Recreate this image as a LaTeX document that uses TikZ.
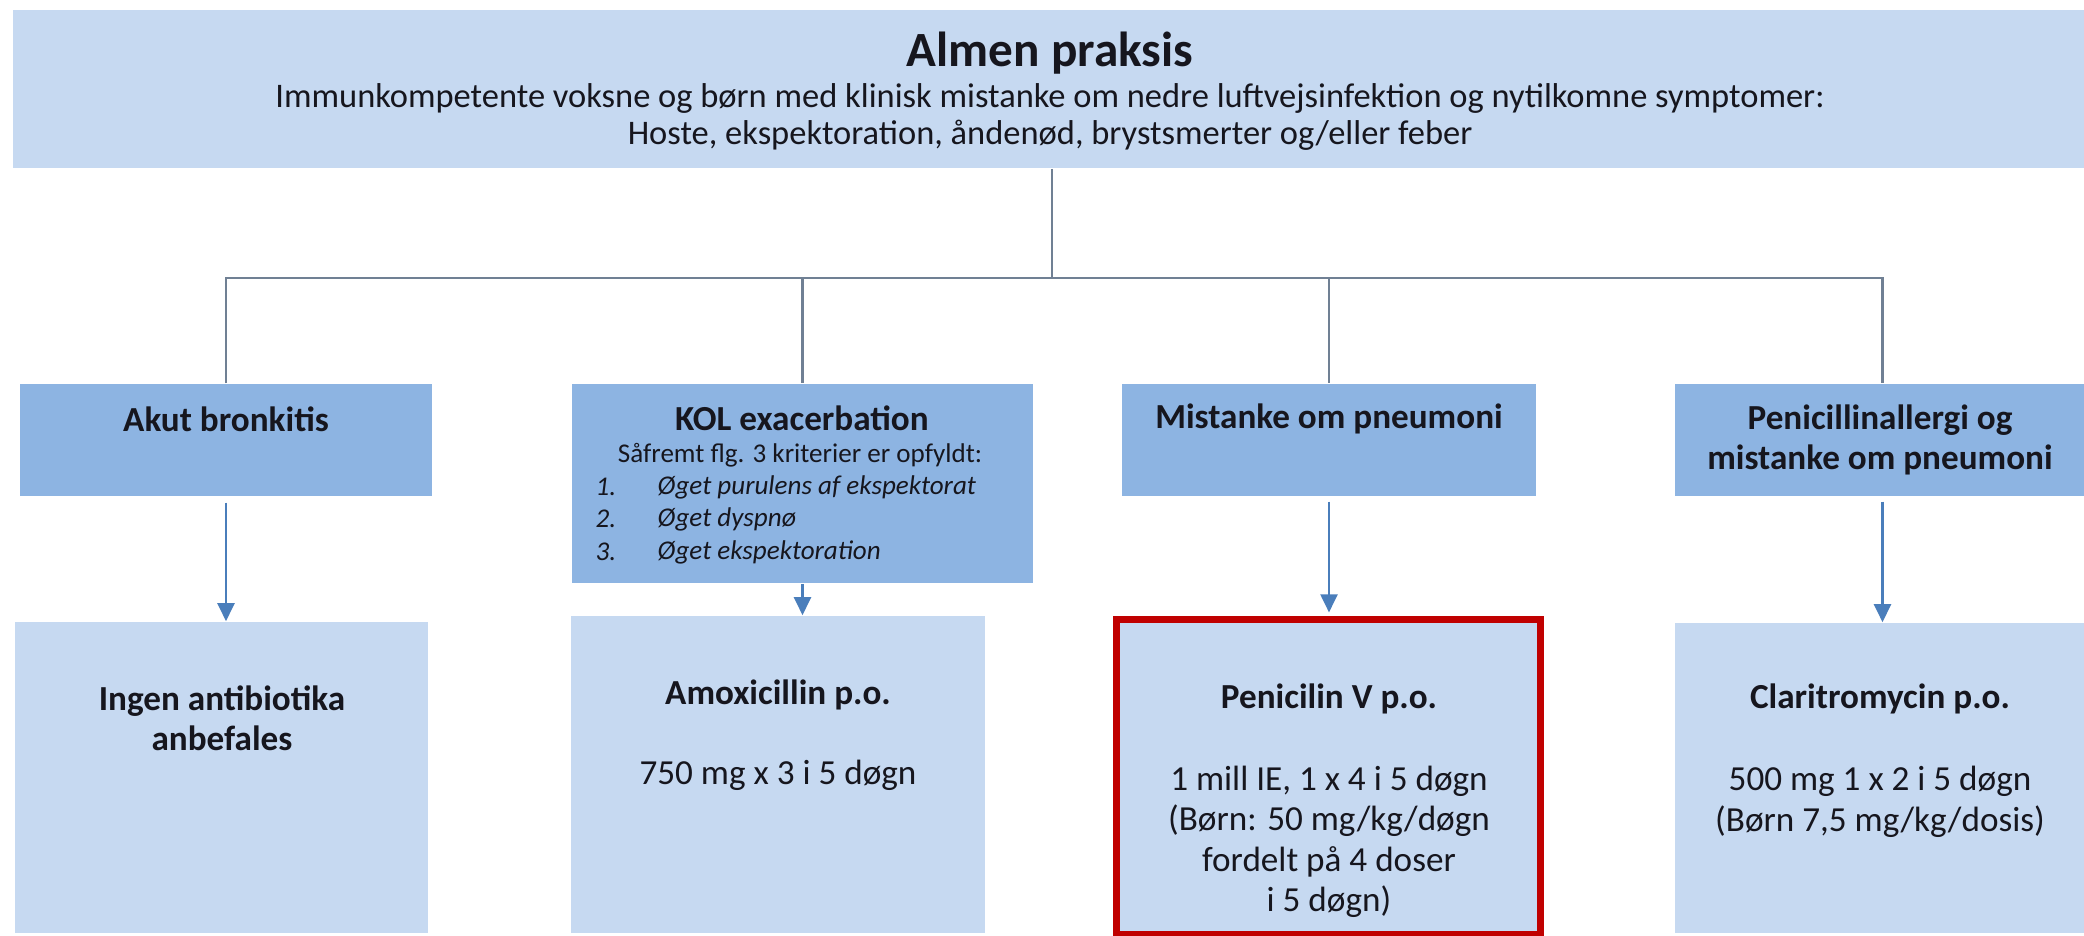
\documentclass[tikz,border=0pt]{standalone}
\usepackage{fontspec}
\setmainfont{Carlito}
\usetikzlibrary{arrows.meta,positioning}
\definecolor{boxlight}{RGB}{198,217,241}
\definecolor{boxmid}{RGB}{141,180,226}
\definecolor{treegray}{RGB}{112,128,148}
\definecolor{arrowblue}{RGB}{74,126,187}
\definecolor{markred}{RGB}{192,0,0}
\definecolor{txtdark}{RGB}{22,22,30}

\begin{document}
\begin{tikzpicture}[x=0.01cm,y=-0.01cm,>=Stealth, every node/.style={text=txtdark,inner sep=0pt}]
    \tikzset{lowbox/.style={fill=boxlight,inner sep=0pt}}
    \tikzset{midbox/.style={fill=boxmid,inner sep=0pt}}
    \tikzset{markbox/.style={lowbox,draw=markred,line width=0.07cm}}
    \tikzset{tree/.style={draw=treegray,line width=0.7pt}}
    \tikzset{arr/.style={draw=arrowblue,line width=0.6pt,-{Triangle[width=1.7mm,length=1.8mm]}}}
    \tikzset{hd/.style={font=\fontsize{10}{11.5}\selectfont\bfseries,align=center}}
    \tikzset{dose/.style={font=\fontsize{10}{11.5}\selectfont,align=center}}
    \tikzset{crit/.style={font=\fontsize{7.7}{9.2}\selectfont\itshape,anchor=west}}

    \useasboundingbox (0,0) rectangle (2084,936);

    % Top box
    \node[lowbox,minimum width=20.76cm,minimum height=1.58cm] (top) at (1052,89) {};
    \node[font=\fontsize{14}{16}\selectfont\bfseries] (toptitle) at (1050,53) {Almen praksis};
    \node[font=\fontsize{9.8}{10.5}\selectfont,align=center] (topsub) at (1050,117)
      {Immunkompetente voksne og børn med klinisk mistanke om nedre luftvejsinfektion og nytilkomne symptomer:\\
       Hoste, ekspektoration, åndenød, brystsmerter og/eller feber};

    % Middle row
    \node[midbox,minimum width=4.12cm,minimum height=1.12cm] (akut) at (226,440) {};
    \node[midbox,minimum width=4.61cm,minimum height=1.99cm] (kol) at (802.5,483.5) {};
    \node[midbox,minimum width=4.14cm,minimum height=1.12cm] (mist) at (1329,440) {};
    \node[midbox,minimum width=4.15cm,minimum height=1.12cm] (pall) at (1882.5,440) {};

    \node[hd] (akuttxt) at (226,419) {Akut bronkitis};
    \node[hd] (koltxt) at (802,418) {KOL exacerbation};
    \node[font=\fontsize{7.7}{9.2}\selectfont] (kolsub) at (800,455) {Såfremt flg. 3 kriterier er opfyldt:};
    \node[crit] (kn1) at (595,487) {1.};
    \node[crit] (kc1) at (657,487) {Øget purulens af ekspektorat};
    \node[crit] (kn2) at (595,519) {2.};
    \node[crit] (kc2) at (657,519) {Øget dyspnø};
    \node[crit] (kn3) at (595,552) {3.};
    \node[crit] (kc3) at (657,552) {Øget ekspektoration};
    \node[hd] (misttxt) at (1329,419) {Mistanke om pneumoni};
    \node[hd] (palltxt) at (1880,440) {Penicillinallergi og\\mistanke om pneumoni};

    % Bottom row
    \node[lowbox,minimum width=4.13cm,minimum height=3.11cm] (ingen) at (221.5,777.5) {};
    \node[lowbox,minimum width=4.14cm,minimum height=3.17cm] (amox) at (778,774.5) {};
    \node[markbox,minimum width=4.24cm,minimum height=3.145cm] (penv) at (1328.5,776.75) {};
    \node[lowbox,minimum width=4.15cm,minimum height=3.10cm] (clar) at (1882.5,778) {};

    \node[hd] (ingentxt) at (222,718) {Ingen antibiotika\\anbefales};
    \node[hd] (amoxtxt) at (778,695) {Amoxicillin p.o.};
    \node[dose] (amoxdose) at (778,775) {750 mg x 3 i 5 døgn};
    \node[hd] (penvtxt) at (1329,699) {Penicilin V p.o.};
    \node[dose] (penvdose) at (1329,842) {1 mill IE, 1 x 4 i 5 døgn\\(Børn: 50 mg/kg/døgn\\fordelt på 4 doser\\i 5 døgn)};
    \node[hd] (clartxt) at (1880,699) {Claritromycin p.o.};
    \node[dose] (clardose) at (1880,802) {500 mg 1 x 2 i 5 døgn\\(Børn 7,5 mg/kg/dosis)};

    % Tree from top box
    \coordinate (hub) at (1052,278);
    \draw[tree] (top.south) -- (hub);
    \draw[tree] (akut.north) -- (akut.north |- hub) -- (pall.north |- hub) -- (pall.north);
    \draw[tree] (kol.north |- hub) -- (kol.north);
    \draw[tree] (mist.north |- hub) -- (mist.north);

    % Arrows to treatment
    \draw[arr,shorten <=0.06cm] (akut.south) -- (akut.south |- ingen.north);
    \draw[arr] (kol.south) -- (kol.south |- amox.north);
    \draw[arr,shorten <=0.05cm,shorten >=0.035cm] (mist.south) -- (mist.south |- penv.north);
    \draw[arr,shorten <=0.05cm] (pall.south) -- (pall.south |- clar.north);
  \end{tikzpicture}
\end{document}
